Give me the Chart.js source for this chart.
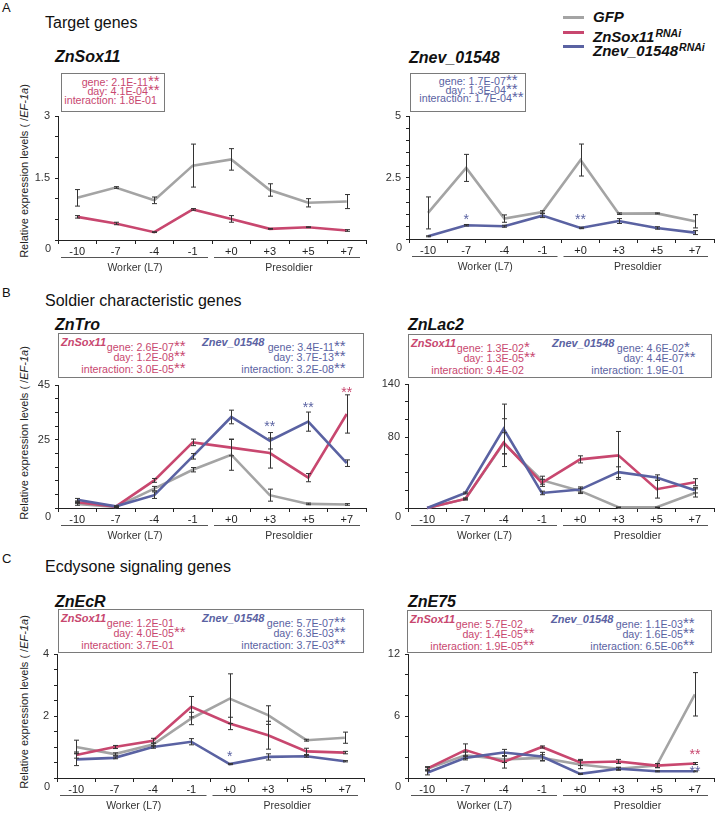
<!DOCTYPE html>
<html>
<head>
<meta charset="utf-8">
<script src="https://cdn.jsdelivr.net/npm/chart.js@4.4.0/dist/chart.umd.min.js"></script>
<style>
  html, body { margin: 0; padding: 0; background: #fff; }
  #fig { position: relative; width: 716px; height: 815px; overflow: hidden; font-family: 'Liberation Sans', Arial, Helvetica, sans-serif; color: #111; }
  #fig canvas { position: absolute; }
  .t { position: absolute; white-space: nowrap; }
  .bi { font-weight: bold; font-style: italic; }
  .box { position: absolute; border: 1px solid #7a7a7a; box-sizing: border-box; }
  .ln { position: absolute; white-space: nowrap; font-size: 10.7px; line-height: 12px; text-align: right; }
  .st { display: inline-block; width: 0; line-height: 0; font-size: 15px; overflow: visible; white-space: nowrap; }
  .ytitle { position: absolute; white-space: nowrap; font-size: 11px; transform: translate(-50%, -50%) rotate(-90deg); color: #222; }
</style>
</head>
<body>
<div id="fig"></div>
<script>
const FONT = "'Liberation Sans', Arial, Helvetica, sans-serif";
const GRAY = '#a4a4a4', RED = '#c8476f', BLUE = '#5a62a2';

// days after molt, shared x categories
const days = ['-10', '-7', '-4', '-1', '+0', '+3', '+5', '+7'];
const groups = ['Worker (L7)', 'Presoldier'];

// A: ZnSox11
const sox11Gfp    = [1.02, 1.27, 0.96, 1.80, 1.95, 1.21, 0.90, 0.93];
const sox11GfpErr = [0.20, 0.02, 0.08, 0.52, 0.26, 0.15, 0.10, 0.17];
const sox11Kd     = [0.56, 0.40, 0.19, 0.74, 0.51, 0.27, 0.31, 0.23];
const sox11KdErr  = [0.03, 0.03, 0.01, 0.02, 0.08, 0.01, 0.01, 0.02];
const sox11Ticks  = [0, 1.5, 3];

// A: Znev_01548
const znevGfp    = [1.06, 2.89, 0.83, 1.10, 3.21, 1.03, 1.04, 0.72];
const znevGfpErr = [0.65, 0.55, 0.15, 0.05, 0.65, 0.03, 0.02, 0.27];
const znevKd     = [0.11, 0.56, 0.52, 0.95, 0.45, 0.73, 0.45, 0.26];
const znevKdErr  = [0.02, 0.03, 0.04, 0.08, 0.03, 0.10, 0.05, 0.08];
const znevTicks  = [0, 2.5, 5];
const znevStars  = [[1, 0.92, '*', 'znev'], [4, 0.95, '**', 'znev']];

// B: ZnTro
const troGfp     = [1.5, 0.4, 7.1, 14.0, 19.5, 4.7, 1.5, 1.3];
const troGfpErr  = [0.5, 0.2, 0.8, 0.8, 5.7, 2.2, 0.3, 0.3];
const troSox     = [2.1, 0.5, 10.1, 24.0, 22.1, 20.1, 11.1, 34.4];
const troSoxErr  = [0.4, 0.2, 0.7, 1.2, 3.0, 5.5, 1.5, 7.0];
const troZnev    = [3.0, 0.6, 4.7, 18.9, 33.3, 24.6, 31.6, 16.4];
const troZnevErr = [0.5, 0.2, 1.2, 1.0, 2.5, 3.0, 3.5, 1.2];
const troTicks   = [0, 25, 45];
const troStars   = [[5, 31, '**', 'znev'], [6, 38, '**', 'znev'], [7, 43.5, '**', 'sox']];

// B: ZnLac2
const lacGfp     = [0, 10.2, 73, 31.4, 19.3, 0.8, 0.8, 17];
const lacGfpErr  = [0, 1, 12, 4.5, 3, 0.3, 0.3, 4.6];
const lacSox     = [0, 10.2, 73.8, 28.4, 54.9, 59.4, 21.2, 29.1];
const lacSoxErr  = [0, 1, 27, 4, 4, 27, 10, 4];
const lacZnev    = [0, 17, 89.3, 17, 20.8, 40.5, 34.4, 20];
const lacZnevErr = [0, 1, 28, 2, 3, 6, 3, 3];
const lacTicks   = [0, 80, 140];

// C: ZnEcR
const ecrGfp     = [1.00, 0.77, 1.08, 1.92, 2.56, 2.03, 1.22, 1.30];
const ecrGfpErr  = [0.22, 0.04, 0.05, 0.20, 0.80, 0.30, 0.03, 0.18];
const ecrSox     = [0.74, 1.00, 1.20, 2.30, 1.76, 1.38, 0.86, 0.82];
const ecrSoxErr  = [0.10, 0.05, 0.08, 0.33, 0.20, 0.45, 0.10, 0.04];
const ecrZnev    = [0.60, 0.65, 1.00, 1.17, 0.45, 0.68, 0.70, 0.54];
const ecrZnevErr = [0.20, 0.03, 0.04, 0.10, 0.02, 0.10, 0.03, 0.02];
const ecrTicks   = [0, 2, 4];
const ecrStars   = [[4, 0.82, '*', 'znev']];

// C: ZnE75
const e75Gfp     = [0.9, 2.2, 1.8, 1.95, 1.3, 0.9, 1.2, 8.1];
const e75GfpErr  = [0.1, 0.3, 0.3, 0.3, 0.4, 0.1, 0.2, 2.1];
const e75Sox     = [0.9, 2.7, 1.56, 3.0, 1.5, 1.6, 1.2, 1.4];
const e75SoxErr  = [0.2, 0.6, 0.6, 0.1, 0.3, 0.2, 0.2, 0.1];
const e75Znev    = [0.5, 1.95, 2.47, 2.08, 0.4, 0.9, 0.65, 0.65];
const e75ZnevErr = [0.2, 0.2, 0.3, 0.4, 0.05, 0.15, 0.05, 0.05];
const e75Ticks   = [0, 6, 12];
const e75Stars   = [[7, 2.6, '**', 'sox'], [7, 1.0, '**', 'znev']];

// two-way ANOVA p-values shown in the boxes: [text, stars]
const sox11Anova = [['gene: 2.1E-11', '**'], ['day: 4.1E-04', '**'], ['interaction: 1.8E-01', '']];
const znevAnova  = [['gene: 1.7E-07', '**'], ['day: 1.3E-04', '**'], ['interaction: 1.7E-04', '**']];
const troAnovaSox  = [['gene: 2.6E-07', '**'], ['day: 1.2E-08', '**'], ['interaction: 3.0E-05', '**']];
const troAnovaZnev = [['gene: 3.4E-11', '**'], ['day: 3.7E-13', '**'], ['interaction: 3.2E-08', '**']];
const lacAnovaSox  = [['gene: 1.3E-02', '*'], ['day: 1.3E-05', '**'], ['interaction: 9.4E-02', '']];
const lacAnovaZnev = [['gene: 4.6E-02', '*'], ['day: 4.4E-07', '**'], ['interaction: 1.9E-01', '']];
const ecrAnovaSox  = [['gene: 1.2E-01', ''], ['day: 4.0E-05', '**'], ['interaction: 3.7E-01', '']];
const ecrAnovaZnev = [['gene: 5.7E-07', '**'], ['day: 6.3E-03', '**'], ['interaction: 3.7E-03', '**']];
const e75AnovaSox  = [['gene: 5.7E-02', ''], ['day: 1.4E-05', '**'], ['interaction: 1.9E-05', '**']];
const e75AnovaZnev = [['gene: 1.1E-03', '**'], ['day: 1.6E-05', '**'], ['interaction: 6.5E-06', '**']];

const starColor = { sox: RED, znev: BLUE };
const fig = document.getElementById('fig');

function put(html, x, cy, size, cls, color) {
  const d = document.createElement('div');
  d.className = 't ' + (cls || '');
  d.innerHTML = html;
  const lh = Math.round(size * 1.2);
  d.style.left = x + 'px';
  d.style.top = (cy - lh / 2) + 'px';
  d.style.fontSize = size + 'px';
  d.style.lineHeight = lh + 'px';
  if (color) d.style.color = color;
  fig.appendChild(d);
  return d;
}

function yTitle(cy) {
  const d = document.createElement('div');
  d.className = 'ytitle';
  d.innerHTML = 'Relative expression levels ( /<i>EF-1a</i>)';
  d.style.left = '24px';
  d.style.top = cy + 'px';
  fig.appendChild(d);
}

function lines(box, rows, endX, centers, color, lastShift) {
  rows.forEach((r, i) => {
    const d = document.createElement('div');
    d.className = 'ln';
    d.style.color = color;
    d.style.right = (box.offsetWidth - endX - (i === 2 ? (lastShift || 0) : 0)) + 'px';
    d.style.top = (centers[i] - 6) + 'px';
    d.innerHTML = r[0] + (r[1] ? '<span class="st">' + r[1] + '</span>' : '');
    box.appendChild(d);
  });
}

function anovaBox(x, y, w, h) {
  const b = document.createElement('div');
  b.className = 'box';
  b.style.left = x + 'px'; b.style.top = y + 'px';
  b.style.width = w + 'px'; b.style.height = h + 'px';
  fig.appendChild(b);
  return b;
}

function twoBox(x, y, w, h, soxRows, znevRows) {
  const b = anovaBox(x, y, w, h);
  const lab = (txt, lx, color) => {
    const d = document.createElement('div');
    d.className = 'ln bi';
    d.style.fontSize = '11px';
    d.style.left = lx + 'px'; d.style.top = (8 - 6) + 'px';
    d.style.color = color;
    d.textContent = txt;
    b.appendChild(d);
  };
  lab('ZnSox11', 2, RED);
  lab('Znev_01548', 143, BLUE);
  const c = [12.5, 23, 34.5];
  lines(b, soxRows, 117, c, RED);
  lines(b, znevRows, 277, c, BLUE);
}

// ---------- texts ----------
put('A', 2, 7.5, 13);
put('B', 2, 292.5, 13);
put('C', 2, 558.5, 13);
put('Target genes', 45, 22, 16);
put('Soldier characteristic genes', 45, 300, 16);
put('Ecdysone signaling genes', 45, 566.5, 16);

put('ZnSox11', 55, 56, 16, 'bi');
put('Znev_01548', 409, 57, 16, 'bi');
put('ZnTro', 55, 324.5, 16, 'bi');
put('ZnLac2', 408, 324.7, 16, 'bi');
put('ZnEcR', 55, 601, 16, 'bi');
put('ZnE75', 408, 601, 16, 'bi');

yTitle(171);
yTitle(433);
yTitle(702);

// legend
[['GFP', GRAY, 17.4], ['ZnSox11', RED, 32.7], ['Znev_01548', BLUE, 46.9]].forEach(([name, col, cy], i) => {
  const l = document.createElement('div');
  l.style.cssText = 'position:absolute;left:563px;width:21px;height:3px;background:' + col + ';top:' + (cy - 1.5) + 'px';
  fig.appendChild(l);
  put(name + (i ? '<sup style="font-size:10.5px;vertical-align:5px;margin-left:1px">RNAi</sup>' : ''), 593, cy, 15, 'bi');
});

// ANOVA boxes
const bA1 = anovaBox(61, 73, 104, 39);
lines(bA1, sox11Anova, 88, [7.5, 16.5, 25.5], RED, 9);
const bA2 = anovaBox(410, 73, 116, 39);
lines(bA2, znevAnova, 97, [7.3, 15.8, 24.3], BLUE, 6);
twoBox(58, 333, 306, 45, troAnovaSox, troAnovaZnev);
twoBox(408, 334, 304, 44, lacAnovaSox, lacAnovaZnev);
twoBox(58, 609, 306, 44, ecrAnovaSox, ecrAnovaZnev);
twoBox(407, 610, 305, 43, e75AnovaSox, e75AnovaZnev);

// ---------- charts ----------
const extras = {
  id: 'extras',
  afterDatasetsDraw(chart, args, opts) {
    const { ctx, chartArea: a, scales: { x, y } } = chart;
    ctx.save();
    ctx.strokeStyle = '#333';
    ctx.lineWidth = 1;
    chart.data.datasets.forEach(ds => {
      ds.data.forEach((v, i) => {
        const e = ds.errorBars[i];
        if (!e) return;
        const px = Math.round(x.getPixelForValue(i)) + 0.5;
        const y1 = y.getPixelForValue(v + e), y2 = y.getPixelForValue(Math.max(0, v - e));
        ctx.beginPath();
        ctx.moveTo(px, y1); ctx.lineTo(px, y2);
        ctx.moveTo(px - 2.5, y1); ctx.lineTo(px + 2.5, y1);
        ctx.moveTo(px - 2.5, y2); ctx.lineTo(px + 2.5, y2);
        ctx.stroke();
      });
    });
    ctx.font = '14px ' + FONT;
    ctx.textAlign = 'center';
    ctx.textBaseline = 'alphabetic';
    (opts.stars || []).forEach(([i, v, t, who]) => {
      ctx.fillStyle = starColor[who];
      ctx.fillText(t, x.getPixelForValue(i), y.getPixelForValue(v) + 8);
    });
    ctx.restore();
  },
  afterDraw(chart) {
    const { ctx, chartArea: a, scales: { x } } = chart;
    const half = (x.getPixelForValue(1) - x.getPixelForValue(0)) / 2;
    ctx.save();
    ctx.fillStyle = '#333';
    ctx.font = '11px ' + FONT;
    ctx.textAlign = 'right';
    ctx.textBaseline = 'middle';
    ctx.fillText('0', a.left - 7, a.bottom + 9);
    ctx.strokeStyle = '#555';
    ctx.lineWidth = 1;
    ctx.font = '10.5px ' + FONT;
    ctx.textAlign = 'center';
    groups.forEach((g, k) => {
      const x0 = x.getPixelForValue(k * 4) - half, x1 = x.getPixelForValue(k * 4 + 3) + half;
      const ly = Math.round(a.bottom + 17) + 0.5;
      ctx.beginPath();
      ctx.moveTo(x0 + (k ? 2 : 3), ly);
      ctx.lineTo(x1 - (k ? 6 : 4), ly);
      ctx.stroke();
      ctx.fillText(g, (x0 + x1) / 2, a.bottom + 28.5);
    });
    ctx.restore();
  }
};

function makeChart(area, max, step, ticks, series, stars) {
  const [l, t, r, b] = area;
  const cv = document.createElement('canvas');
  cv.width = r - l + 52;
  cv.height = b - t + 12 + 40;
  cv.style.left = (l - 50) + 'px';
  cv.style.top = (t - 12) + 'px';
  fig.appendChild(cv);
  new Chart(cv, {
    type: 'line',
    data: {
      labels: days,
      datasets: series.map(([vals, errs, col, ord]) => ({
        data: vals, errorBars: errs, borderColor: col, borderWidth: 2.6,
        pointRadius: 0, tension: 0, fill: false, clip: false, order: ord
      }))
    },
    options: {
      responsive: false,
      animation: false,
      layout: { padding: { top: 12, right: 2, left: 0, bottom: 0 } },
      plugins: { legend: { display: false }, tooltip: { enabled: false }, extras: { stars } },
      scales: {
        x: {
          type: 'category', offset: true,
          grid: { offset: true, drawOnChartArea: false, tickLength: 4, color: '#222' },
          border: { color: '#222', width: 1 },
          ticks: { color: '#222', font: { size: 11, family: FONT }, padding: 1, maxRotation: 0, autoSkip: false },
          afterFit: s => { s.height = 40; }
        },
        y: {
          min: 0, max: max,
          grid: { drawOnChartArea: false, tickLength: 3, color: '#222' },
          border: { color: '#222', width: 1 },
          ticks: {
            stepSize: step, autoSkip: false, color: '#333', font: { size: 11, family: FONT }, padding: 5,
            callback: v => (ticks.includes(v) && v !== 0) ? String(v) : ''
          },
          afterFit: s => { s.width = 50; }
        }
      }
    },
    plugins: [extras]
  });
}

makeChart([58, 116, 366, 240], 3, 0.5, sox11Ticks,
  [[sox11Gfp, sox11GfpErr, GRAY, 3], [sox11Kd, sox11KdErr, RED, 1]], []);
makeChart([409, 116, 714, 239], 5, 0.5, znevTicks,
  [[znevGfp, znevGfpErr, GRAY, 3], [znevKd, znevKdErr, BLUE, 1]], znevStars);
makeChart([58, 385, 366, 508], 45, 5, troTicks,
  [[troGfp, troGfpErr, GRAY, 3], [troSox, troSoxErr, RED, 2], [troZnev, troZnevErr, BLUE, 1]], troStars);
makeChart([408, 384, 714, 508], 140, 20, lacTicks,
  [[lacGfp, lacGfpErr, GRAY, 3], [lacSox, lacSoxErr, RED, 2], [lacZnev, lacZnevErr, BLUE, 1]], []);
makeChart([57, 654, 364, 778], 4, 0.5, ecrTicks,
  [[ecrGfp, ecrGfpErr, GRAY, 3], [ecrSox, ecrSoxErr, RED, 2], [ecrZnev, ecrZnevErr, BLUE, 1]], ecrStars);
makeChart([408, 654, 714, 778], 12, 2, e75Ticks,
  [[e75Gfp, e75GfpErr, GRAY, 3], [e75Sox, e75SoxErr, RED, 2], [e75Znev, e75ZnevErr, BLUE, 1]], e75Stars);
</script>
</body>
</html>
